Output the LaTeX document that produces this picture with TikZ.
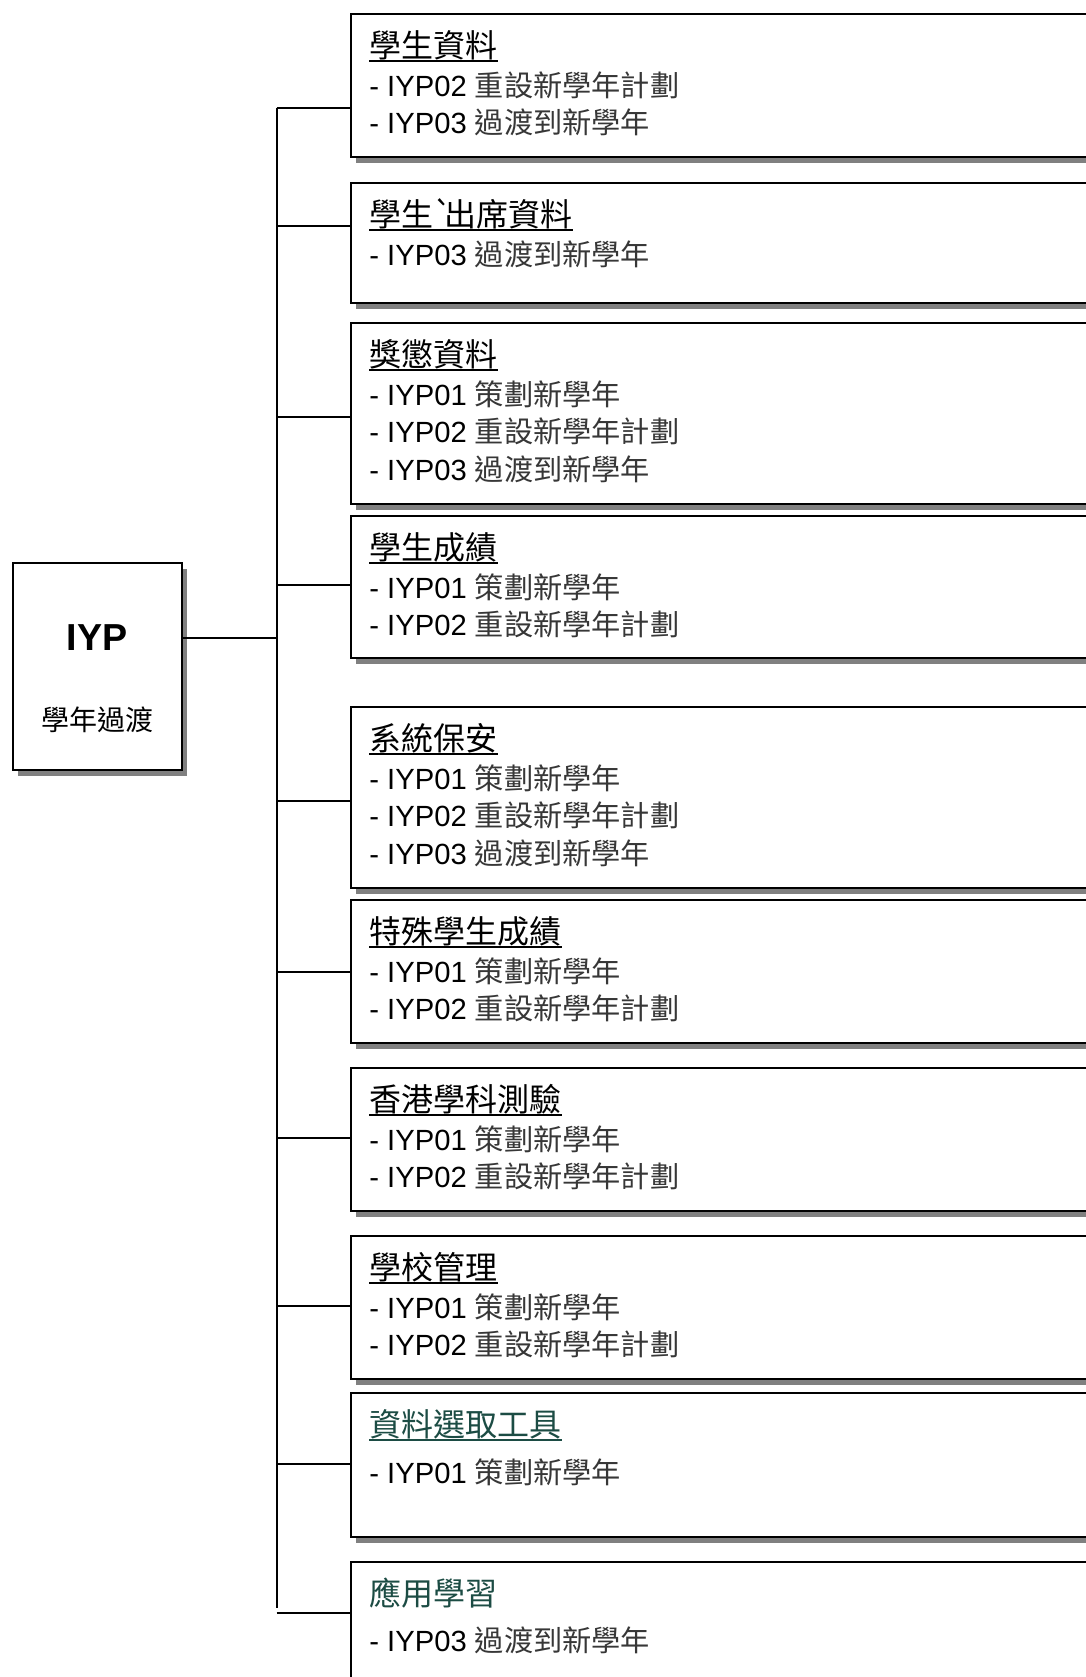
\documentclass[tikz,border=0pt]{standalone}
\usepackage{fontspec}
\setmainfont{Liberation Sans}
\newfontfamily\cjk{Noto Sans CJK TC}
\usetikzlibrary{shadows}
\definecolor{shadowgray}{RGB}{128,128,128}
\definecolor{titlegreen}{RGB}{28,76,68}
\definecolor{cjkgray}{RGB}{55,55,55}
\newcommand{\zh}[1]{{\cjk\color{cjkgray}#1}}
\newcommand{\ttlfont}{\cjk\fontsize{16pt}{18pt}\selectfont}
\newcommand{\itmfont}{\fontsize{14.6pt}{17pt}\selectfont}
\begin{document}
\begin{tikzpicture}[x=0.5pt,y=-0.5pt,
  shadowed/.style={draw=black, line width=1pt, fill=white, rectangle, inner sep=0pt,
    drop shadow={shadow xshift=2.5pt,shadow yshift=-3pt,fill=shadowgray,opacity=1}},
  panel/.style={shadowed, anchor=north west, minimum width=385pt},
  ttl/.style={anchor=base west, inner sep=0pt, font=\ttlfont},
  itm/.style={anchor=base west, inner sep=0pt, font=\itmfont},
  conn/.style={line width=1pt, draw=black},
  uline/.style={line width=0.8pt}]
\useasboundingbox (0,0) rectangle (1086,1677);
\clip (0,0) rectangle (1086,1677);

% root box
\node[shadowed, minimum width=84.5pt, minimum height=103.6pt] (root) at (97.2,666.3) {};
\node[anchor=base, inner sep=0pt, font=\fontsize{18.8pt}{22pt}\selectfont\bfseries] (rootA) at (97.2,650.8) {IYP};
\node[anchor=base, inner sep=0pt, font=\cjk\fontsize{14pt}{17pt}\selectfont] (rootB) at (97.5,730.5) {學年過渡};

% trunk
\coordinate (j0) at (276.7,637.7);
\coordinate (ttop) at (276.7,108);
\coordinate (tbot) at (276.7,1608);
\draw[conn] (root.east |- j0) -- (j0);
\draw[conn] (ttop) -- (tbot);

% panels
\node[panel, minimum height=71.5pt] (b1) at (349.5,13) {};
\node[panel, minimum height=60pt]   (b2) at (349.5,182) {};
\node[panel, minimum height=90.5pt] (b3) at (349.5,322) {};
\node[panel, minimum height=71pt]   (b4) at (349.5,515) {};
\node[panel, minimum height=90.5pt] (b5) at (349.5,706) {};
\node[panel, minimum height=71.5pt] (b6) at (349.5,899) {};
\node[panel, minimum height=71.5pt] (b7) at (349.5,1067) {};
\node[panel, minimum height=71.5pt] (b8) at (349.5,1235) {};
\node[panel, minimum height=72pt]   (b9) at (349.5,1392) {};
\node[panel, minimum height=90pt]   (b10) at (349.5,1561) {};

% branches
\foreach \n/\yy in {1/108, 2/226, 3/417, 4/585, 5/801, 6/972, 7/1138, 8/1306, 9/1464, 10/1613} {
  \coordinate (k\n) at (276.7,\yy);
  \draw[conn] (k\n) -- (k\n -| b\n.west);
}

% box 1
\node[ttl] (t1) at (369,57) {學生資料};
\node[itm] (i1a) at (369,96) {- IYP02 \zh{重設新學年計劃}};
\node[itm] (i1b) at (369,133.5) {- IYP03 \zh{過渡到新學年}};
% box 2
\node[ttl] (t2) at (369,226) {學生`\kern-0.25em 出席資料};
\node[itm] (i2a) at (369,265) {- IYP03 \zh{過渡到新學年}};
% box 3
\node[ttl] (t3) at (369,366) {獎懲資料};
\node[itm] (i3a) at (369,405) {- IYP01 \zh{策劃新學年}};
\node[itm] (i3b) at (369,442.5) {- IYP02 \zh{重設新學年計劃}};
\node[itm] (i3c) at (369,480) {- IYP03 \zh{過渡到新學年}};
% box 4
\node[ttl] (t4) at (369,559) {學生成績};
\node[itm] (i4a) at (369,598) {- IYP01 \zh{策劃新學年}};
\node[itm] (i4b) at (369,635.5) {- IYP02 \zh{重設新學年計劃}};
% box 5
\node[ttl] (t5) at (369,750) {系統保安};
\node[itm] (i5a) at (369,789) {- IYP01 \zh{策劃新學年}};
\node[itm] (i5b) at (369,826.5) {- IYP02 \zh{重設新學年計劃}};
\node[itm] (i5c) at (369,864) {- IYP03 \zh{過渡到新學年}};
% box 6
\node[ttl] (t6) at (369,943) {特殊學生成績};
\node[itm] (i6a) at (369,982) {- IYP01 \zh{策劃新學年}};
\node[itm] (i6b) at (369,1019.5) {- IYP02 \zh{重設新學年計劃}};
% box 7
\node[ttl] (t7) at (369,1111) {香港學科測驗};
\node[itm] (i7a) at (369,1150) {- IYP01 \zh{策劃新學年}};
\node[itm] (i7b) at (369,1187.5) {- IYP02 \zh{重設新學年計劃}};
% box 8
\node[ttl] (t8) at (369,1279) {學校管理};
\node[itm] (i8a) at (369,1318) {- IYP01 \zh{策劃新學年}};
\node[itm] (i8b) at (369,1355.5) {- IYP02 \zh{重設新學年計劃}};
% box 9
\node[ttl, text=titlegreen] (t9) at (369,1436) {資料選取工具};
\node[itm] (i9a) at (369,1483) {- IYP01 \zh{策劃新學年}};
% box 10
\node[ttl, text=titlegreen] (t10) at (369,1605) {應用學習};
\node[itm] (i10a) at (369,1651) {- IYP03 \zh{過渡到新學年}};

% underlines
\foreach \n in {1,...,8} {
  \draw[uline] ([yshift=-2pt]t\n.base west) -- ([yshift=-2pt]t\n.base east);
}
\draw[uline, titlegreen] ([yshift=-2pt]t9.base west) -- ([yshift=-2pt]t9.base east);
\end{tikzpicture}
\end{document}
